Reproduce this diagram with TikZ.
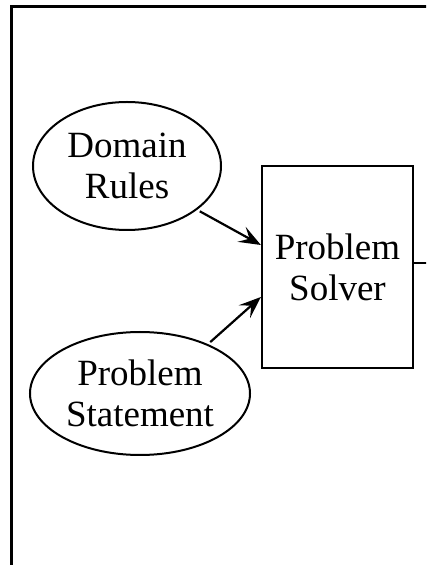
\documentclass[tikz,border=0pt]{standalone}
\usepackage{fontspec}
\setmainfont{Liberation Serif}
\usetikzlibrary{shapes.geometric,arrows.meta}
\begin{document}
\begin{tikzpicture}[x=1pt,y=1pt,
  lbl/.style={font=\fontsize{37}{41}\selectfont, align=center, inner sep=0pt},
  ell/.style={lbl, ellipse, draw, line width=2pt},
  boxn/.style={lbl, rectangle, draw, line width=2.2pt},
  arr/.style={line width=2.2pt, shorten <=3pt, -{Stealth[length=22pt,width=17pt,inset=9pt]}}]
\useasboundingbox (0,0) rectangle (426,565);
\clip (0,0) rectangle (426,565);
\fill[white] (0,0) rectangle (426,565);
\draw[line width=3pt] (11.5,-20) -- (11.5,558.5) -- (460,558.5);
\node[ell, minimum width=188pt, minimum height=128pt] (dr) at (127,399) {Domain\\Rules};
\node[ell, minimum width=220pt, minimum height=123pt] (st) at (140,171.5) {Problem\\Statement};
\node[boxn, minimum width=151pt, minimum height=202pt] (ps) at (337.5,298) {Problem\\Solver};
\coordinate (out) at (460,302);
\draw[arr] (dr.-32) -- ([yshift=22pt]ps.west);
\draw[arr] (st.36) -- ([yshift=-30pt]ps.west);
\draw[line width=2pt] (ps.east |- out) -- (out);
\end{tikzpicture}
\end{document}
